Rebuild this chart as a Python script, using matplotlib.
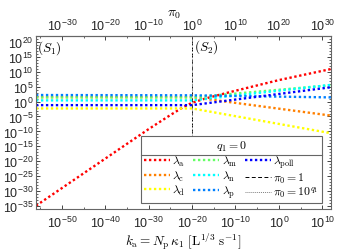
import numpy as np
import matplotlib
matplotlib.use('Agg')
import matplotlib.pyplot as plt
from matplotlib.lines import Line2D
from matplotlib.ticker import FixedLocator, FuncFormatter, NullFormatter

plt.rcParams['mathtext.fontset'] = 'cm'
plt.rcParams['font.family'] = ['Liberation Sans', 'DejaVu Sans']

# log10 values (x: log10 k_a, y: log10 lambda)
ka_a = [-56, -30, -25, -22, -20, -17, -11.5, 0, 12]
lam_a = [-34.9, -9.2, -4.5, -1.8, -0.4, 1.0, 3.1, 7.2, 10.9]

ka_pts = [-56, -20, 12]
lam_c = [1.5, 1.5, -4.7]
lam_d = [-2.3, -2.3, -10.6]
lam_m = [1.4, 1.4, 5.5]
lam_n = [0.4, 0.4, 5.6]
lam_p = [2.2, 2.1, 1.4]
lam_poll = [-1.2, -1.2, 4.8]

pi0_line = -20          # log10 k_a where pi_0 = 1 (= 10^q1, q1 = 0)
pi0_shift = 20          # pi_0 = k_a * 10^20

y_ticks = np.arange(-35, 21, 5)
x_ticks = np.arange(-50, 11, 10)
top_ticks = np.arange(-30, 31, 10)

fig = plt.figure(figsize=(3.38, 2.53), dpi=100)
ax = fig.add_axes([0.1065, 0.170, 0.8725, 0.684])

dot = (0, (1, 1.1))
lw = 1.7


def p(xs, ys, color, label):
    ax.plot(10.0 ** np.array(xs), 10.0 ** np.array(ys), color=color,
            linestyle=dot, lw=lw, label=label)


p(ka_a, lam_a, '#ff0000', r'$\lambda_\mathrm{a}$')
p(ka_pts, lam_c, '#ff8000', r'$\lambda_\mathrm{c}$')
p(ka_pts, lam_d, '#ffff00', r'$\lambda_\mathrm{d}$')
p(ka_pts, lam_m, '#66ff66', r'$\lambda_\mathrm{m}$')
p(ka_pts, lam_n, '#00ffff', r'$\lambda_\mathrm{n}$')
p(ka_pts, lam_p, '#0080ff', r'$\lambda_\mathrm{p}$')
p(ka_pts, lam_poll, '#0000ff', r'$\lambda_\mathrm{poll}$')

ax.axvline(10.0 ** pi0_line, color='k', ls=(0, (4, 2.5)), lw=0.7,
           label=r'$\pi_0 = 1$')
ax.axvline(10.0 ** pi0_line, color='0.5', ls=(0, (1, 1)), lw=0.7,
           label=r'$\pi_0 = 10^{q_1}$')

ax.set_xscale('log')
ax.set_yscale('log')
ax.set_xlim(1e-56, 1e12)
ax.set_ylim(1e-36, 1e22)

fmt = FuncFormatter(lambda v, pos: r'$\mathdefault{10^{%d}}$' % round(np.log10(v)))
ax.xaxis.set_major_locator(FixedLocator(10.0 ** x_ticks))
ax.xaxis.set_minor_locator(FixedLocator(10.0 ** np.arange(-55, 12, 5)))
ax.yaxis.set_major_locator(FixedLocator(10.0 ** y_ticks))
ax.yaxis.set_minor_locator(FixedLocator(10.0 ** np.arange(-36, 23, 1)))
ax.xaxis.set_major_formatter(fmt)
ax.yaxis.set_major_formatter(fmt)
ax.xaxis.set_minor_formatter(NullFormatter())
ax.yaxis.set_minor_formatter(NullFormatter())
ax.tick_params(which='both', direction='in', right=True, labelsize=9,
               colors='0.15', pad=2)
ax.tick_params(axis='x', which='both', pad=4)
ax.tick_params(which='major', length=3, width=0.6)
ax.tick_params(which='minor', length=1.5, width=0.5)
for s in ax.spines.values():
    s.set_color('0.4')
    s.set_linewidth(0.8)

sec = ax.secondary_xaxis('top', functions=(lambda x: x * 10.0 ** pi0_shift,
                                           lambda x: x / 10.0 ** pi0_shift))
sec.xaxis.set_major_locator(FixedLocator(10.0 ** top_ticks))
sec.xaxis.set_minor_locator(FixedLocator(10.0 ** np.arange(-35, 33, 5)))
sec.xaxis.set_major_formatter(fmt)
sec.xaxis.set_minor_formatter(NullFormatter())
sec.tick_params(which='both', direction='in', labelsize=9, colors='0.15', pad=2)
sec.tick_params(which='major', length=3, width=0.6)
sec.tick_params(which='minor', length=1.5, width=0.5)
sec.spines['top'].set_color('0.4')
sec.set_xlabel(r'$\pi_0$', fontsize=10, labelpad=2)
sec.xaxis.label.set_x(0.47)

ax.set_xlabel(r'$k_\mathrm{a} = N_\mathrm{p}\,\kappa_1\ [\mathrm{L}^{1/3}\ \mathrm{s}^{-1}]$',
              fontsize=9.5, labelpad=0)

ax.text(0.003, 0.985, r'$(S_1)$', transform=ax.transAxes, fontsize=9.5,
        va='top', ha='left')
ax.text(10.0 ** (pi0_line + 0.5), 10.0 ** 21.5, r'$(S_2)$', fontsize=9.5,
        va='top', ha='left')

h, l = ax.get_legend_handles_labels()
leg = ax.legend(h, l, ncol=3, title=r'$q_1 = 0$', fontsize=8.5,
                title_fontsize=8.5, loc='upper left', mode='expand',
                bbox_to_anchor=(0.356, 0.04, 0.613, 0.382),
                fancybox=False, edgecolor='0.4', framealpha=1,
                handlelength=2.2, handletextpad=0.2, columnspacing=0.6,
                borderpad=0.25, labelspacing=0.05, borderaxespad=0)
leg.get_frame().set_linewidth(0.8)

fig.canvas.draw()
lb = leg.get_window_extent()
tb = leg.get_title().get_window_extent()
inv = fig.transFigure.inverted()
yl = tb.y0 - 2
x0, y0 = inv.transform((lb.x0, yl))
x1, _ = inv.transform((lb.x1, yl))
fig.add_artist(Line2D([x0, x1], [y0, y0], transform=fig.transFigure,
                      color='0.4', lw=0.8))

fig.savefig('out.png', dpi=100)
